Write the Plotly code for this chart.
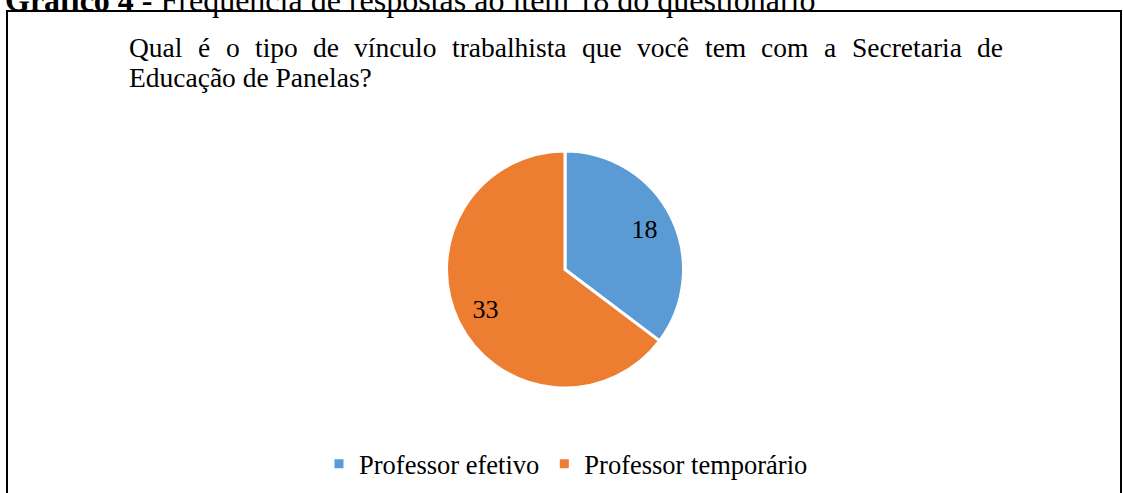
import plotly.graph_objects as go

# ---- data ----
labels = ["Professor efetivo", "Professor temporário"]
values = [18, 33]
colors = ["#5B9BD5", "#ED7D31"]
question_line1 = ["Qual", "é", "o", "tipo", "de", "vínculo", "trabalhista", "que",
                  "você", "tem", "com", "a", "Secretaria", "de"]
question_line2 = "Educação de Panelas?"
caption_bold = "Gráfico 4 -"
caption_rest = " Frequência de respostas ao item 18 do questionário"

W, H = 1123, 493
FONT = "Liberation Serif, Times New Roman, serif"

# Times/Liberation Serif advance widths (per 1000 em) for justification of line 1
adv = {'Q': 722, 'u': 500, 'a': 444, 'l': 278, 'é': 444, 'o': 500, 't': 278, 'i': 278,
       'p': 500, 'd': 500, 'e': 444, 'v': 500, 'í': 278, 'n': 500, 'c': 444, 'r': 333,
       'b': 500, 'h': 500, 's': 389, 'q': 500, 'ê': 444, 'm': 778, 'S': 556}


def px(x):
    return x / W


def py(y):
    return 1 - y / H


fig = go.Figure()
cx, cy, r = 565, 269.5, 118.5
dom = dict(x=[px(cx - r), px(cx + r)], y=[py(cy + r), py(cy - r)])
# coloured slices
fig.add_trace(go.Pie(
    labels=labels, values=values, sort=False, direction="clockwise", rotation=0,
    marker=dict(colors=colors, line=dict(color="white", width=3)),
    textinfo="none", hoverinfo="skip", domain=dom,
))
# value labels, placed by a transparent ring so they sit out toward the rim
fig.add_trace(go.Pie(
    labels=labels, values=values, sort=False, direction="clockwise", rotation=0, hole=0.5,
    marker=dict(colors=["rgba(0,0,0,0)"] * 2, line=dict(width=0)),
    textinfo="value", textposition="inside", insidetextorientation="horizontal",
    textfont=dict(family=FONT, size=26, color="black"),
    hoverinfo="skip", showlegend=False, domain=dom,
))

annotations = []
fs = 27.5
left, right = 128, 1002
widths = [sum(adv.get(ch, 500) for ch in w) / 1000 * fs for w in question_line1]
gap = (right - left - sum(widths)) / (len(question_line1) - 1)
x = left
base1 = 56
for w, wd in zip(question_line1, widths):
    annotations.append(dict(text=w, x=px(x - 1), y=py(base1 - 0.3 * fs), xref="paper", yref="paper",
                            xanchor="left", yanchor="middle", showarrow=False,
                            font=dict(family=FONT, size=fs, color="black")))
    x += wd + gap
base2 = 86
annotations.append(dict(text=question_line2, x=px(left - 1), y=py(base2 - 0.3 * fs), xref="paper",
                        yref="paper", xanchor="left", yanchor="middle", showarrow=False,
                        font=dict(family=FONT, size=fs, color="black")))
# caption partially cut off at the top
annotations.append(dict(text="<b>" + caption_bold + "</b>" + caption_rest, x=px(3), y=py(10 - 0.3 * 32),
                        xref="paper", yref="paper", xanchor="left", yanchor="middle",
                        showarrow=False, font=dict(family=FONT, size=32, color="black")))

fig.update_layout(
    width=W, height=H,
    margin=dict(l=0, r=0, t=0, b=0),
    paper_bgcolor="white", plot_bgcolor="white",
    annotations=annotations,
    shapes=[dict(type="rect", xref="paper", yref="paper", x0=px(7), x1=px(1121), y0=py(11), y1=py(520),
                 line=dict(color="black", width=2), fillcolor="rgba(0,0,0,0)")],
    showlegend=True,
    legend=dict(orientation="h", x=px(319), xanchor="left", y=py(464), yanchor="middle",
                font=dict(family=FONT, size=26.5, color="black"), bgcolor="rgba(0,0,0,0)",
                itemclick=False, itemdoubleclick=False),
)

fig.write_html("out.html", config={"displayModeBar": False},
               post_script="document.body.style.margin='0';")
